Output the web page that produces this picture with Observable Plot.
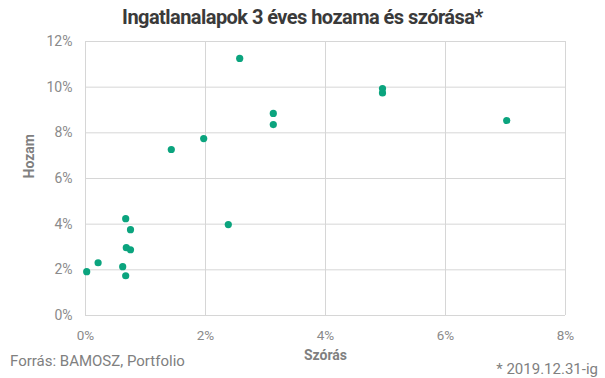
<!DOCTYPE html>
<html>
<head>
<meta charset="utf-8">
<script src="https://cdn.jsdelivr.net/npm/d3@7"></script>
<script src="https://cdn.jsdelivr.net/npm/@observablehq/plot@0.6"></script>
<style>
  html, body { margin: 0; padding: 0; background: #fff; }
  #wrap { position: relative; width: 605px; height: 378px; font-family: Roboto, "Noto Sans", sans-serif; overflow: hidden; }
  #wrap svg { position: absolute; left: 0; top: 0; }
  .t { position: absolute; white-space: nowrap; }
</style>
</head>
<body>
<div id="wrap">
  <div class="t" id="title" style="left:0; width:605px; top:5px; text-align:center; font-weight:700; font-size:20px; letter-spacing:-0.55px; color:#3a3a3a;">Ingatlanalapok 3 éves hozama és szórása*</div>
  <div class="t" style="left:10px; top:352px; font-size:15px; color:#808080;">Forrás: BAMOSZ, Portfolio</div>
  <div class="t" style="right:7px; top:360px; font-size:15px; color:#808080;">* 2019.12.31-ig</div>
</div>
<script>
// Szórás (standard deviation, %) and Hozam (3-year return, %) per fund
const szoras = [2.57, 4.95, 4.95, 3.13, 3.13, 7.02, 1.97, 1.43, 2.38, 0.67, 0.75, 0.68, 0.75, 0.21, 0.02, 0.62, 0.67];
const hozam  = [11.26, 9.94, 9.75, 8.85, 8.36, 8.54, 7.75, 7.27, 3.98, 4.24, 3.76, 2.97, 2.88, 2.31, 1.92, 2.14, 1.74];
const xTicks = [0, 2, 4, 6, 8];
const yTicks = [0, 2, 4, 6, 8, 10, 12];
const xLabel = "Szórás";
const yLabel = "Hozam";

const data = szoras.map((s, i) => ({ szoras: s, hozam: hozam[i] }));
const pct = d => d + "%";

const chart = Plot.plot({
  width: 605,
  height: 378,
  marginLeft: 85,
  marginRight: 40,
  marginTop: 41,
  marginBottom: 63,
  style: { fontFamily: "Roboto, sans-serif", fontSize: "13px", background: "transparent" },
  x: { domain: [0, 8] },
  y: { domain: [0, 12] },
  marks: [
    Plot.gridX(xTicks, { stroke: "#d6d6d6", strokeOpacity: 1, strokeWidth: 1 }),
    Plot.gridY(yTicks, { stroke: "#d6d6d6", strokeOpacity: 1, strokeWidth: 1 }),
    Plot.axisX(xTicks, { tickSize: 0, tickPadding: 15, tickFormat: pct, label: null, fill: "#8a8a8a", fontSize: 13.5 }),
    Plot.axisY(yTicks, { tickSize: 0, tickPadding: 13, tickFormat: pct, label: null, fill: "#8a8a8a", fontSize: 14 }),
    Plot.text([xLabel], { text: d => d, frameAnchor: "bottom", dy: 44, fontWeight: "bold", fontSize: 14, fill: "#7f7f7f" }),
    Plot.text([yLabel], { text: d => d, frameAnchor: "left", dx: -56, rotate: -90, fontWeight: "bold", fontSize: 14, fill: "#7f7f7f" }),
    Plot.dot(data, { x: "szoras", y: "hozam", r: 3.6, fill: "#0ba47e", stroke: "none" })
  ]
});
document.getElementById("wrap").insertBefore(chart, document.getElementById("wrap").firstChild);
</script>
</body>
</html>
